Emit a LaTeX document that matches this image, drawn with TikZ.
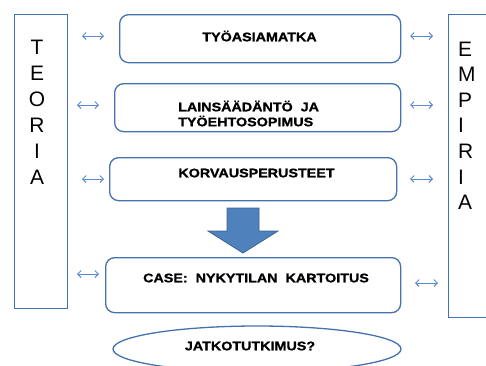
\documentclass[tikz,border=0pt]{standalone}
\usepackage{fontspec}
\setmainfont{Liberation Sans}
\newfontfamily\boxfont[FakeStretch=1.15,FakeBold=1.2]{Liberation Sans Bold}
\usetikzlibrary{arrows.meta,shapes.geometric}
\definecolor{frameblue}{HTML}{4472AE}
\definecolor{linkblue}{HTML}{5A8ACB}
\definecolor{fillblue}{HTML}{4F81BD}
\definecolor{edgeblue}{HTML}{3A6496}
\begin{document}
\begin{tikzpicture}[x=1bp,y=-1bp,
  panel/.style={draw=frameblue,line width=1.3bp,rounded corners=9bp,
    inner sep=0pt,anchor=north west},
  column/.style={draw=frameblue,line width=1.3bp,inner sep=0pt,anchor=north west},
  boxtext/.style={font=\boxfont\fontsize{12.5}{15}\selectfont,inner sep=0pt},
  sidetext/.style={font=\fontsize{21}{26}\selectfont,inner sep=0pt},
  link/.style={draw=linkblue,line width=0.9bp,
    {Straight Barb[length=3.5bp,width=7bp]}-{Straight Barb[length=3.5bp,width=7bp]}},
  blockarrow/.style={fill=fillblue,draw=edgeblue,line width=0.8bp,line join=miter},
]
\useasboundingbox (0,0) rectangle (486,365);

% side columns
\node[column,minimum width=53bp,minimum height=294bp] (teoria) at (14,14) {};
\node[column,minimum width=50bp,minimum height=303bp] (empiria) at (448,14) {};
\node[sidetext,align=center,anchor=north] (teoriatext) at (37,40)
  {T\\E\\O\\R\\I\\A};
\node[sidetext,align=left,anchor=north west,font=\fontsize{21}{25.7}\selectfont]
  (empiriatext) at (458,41.5) {E\\M\\P\\I\\R\\I\\A};

% central boxes
\node[panel,minimum width=281bp,minimum height=48bp] (b1) at (119,14) {};
\node[panel,minimum width=286bp,minimum height=48bp] (b2) at (114,83) {};
\node[panel,minimum width=287bp,minimum height=43bp] (b3) at (109,157) {};
\node[panel,minimum width=295bp,minimum height=55bp] (b4) at (105,257) {};
\node[draw=frameblue,line width=1.3bp,ellipse,inner sep=0pt,
  minimum width=288bp,minimum height=46bp] (jatko) at (257,349) {};

\node[boxtext] (t1) at (259.5,36) {TYÖASIAMATKA};
\node[boxtext,align=left,anchor=west] (t2) at (178,113.5)
  {LAINSÄÄDÄNTÖ\ \ JA\\TYÖEHTOSOPIMUS};
\node[boxtext] (t3) at (256.5,173) {KORVAUSPERUSTEET};
\node[boxtext] (t4) at (256,278) {CASE:\ \ NYKYTILAN\ \ KARTOITUS};
\node[boxtext] (t5) at (250,346) {JATKOTUTKIMUS?};

% block arrow between the third and fourth box
\draw[blockarrow] (227,208) -- (259,208) -- (259,231) -- (278,231)
  -- (243,253) -- (208,231) -- (227,231) -- cycle;

% two-way links, left side
\coordinate (la1) at (82,36);  \coordinate (lb1) at (104,36);
\coordinate (la2) at (77,105); \coordinate (lb2) at (99,105);
\coordinate (la3) at (82,179); \coordinate (lb3) at (104,179);
\coordinate (la4) at (77,274); \coordinate (lb4) at (99,274);
% two-way links, right side
\coordinate (ra1) at (410,36);  \coordinate (rb1) at (433,36);
\coordinate (ra2) at (410,105); \coordinate (rb2) at (433,105);
\coordinate (ra3) at (410,179); \coordinate (rb3) at (433,179);
\coordinate (ra4) at (415,283); \coordinate (rb4) at (438,283);
\foreach \i in {1,2,3,4}{
  \draw[link] (la\i) -- (lb\i);
  \draw[link] (ra\i) -- (rb\i);
}
\end{tikzpicture}
\end{document}
